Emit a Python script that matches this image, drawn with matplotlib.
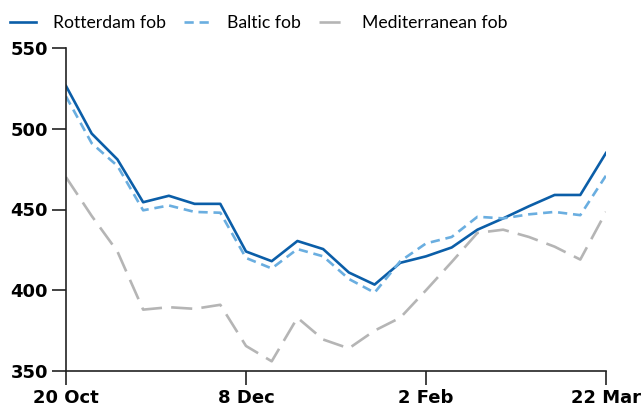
import matplotlib
matplotlib.use("Agg")
import matplotlib.pyplot as plt

dates = ["20 Oct", "8 Dec", "2 Feb", "22 Mar"]
date_idx = [0, 7, 14, 21]

rotterdam = [526.5, 497, 481, 454.5, 458.5, 453.5, 453.5, 424, 418, 430.5, 425.5,
             411, 403.5, 417, 421, 426.5, 437.5, 444.5, 452, 459, 459, 485]
baltic = [520, 491, 477, 449.5, 452.5, 448.5, 448, 420, 413.5, 425.5, 421,
          407, 398.5, 418, 429, 433, 445.5, 444.5, 447, 448.5, 446.5, 471]
mediterranean = [470, 446, 424, 388, 389.5, 388.5, 391, 365.5, 356, 383, 369.5,
                 364, 375, 383, 400, 417.5, 435.5, 437.5, 433, 427, 419, 448.5]

plt.rcParams["font.family"] = ["DejaVu Sans"]

fig = plt.figure(figsize=(6.41, 4.09), dpi=100)
ax = fig.add_axes([66 / 641, 1 - 371 / 409, 540 / 641, 323 / 409])

x = list(range(len(rotterdam)))
ax.plot(x, rotterdam, color="#0b5ea8", lw=1.9, label="Rotterdam fob")
ax.plot(x, baltic, color="#6aaee0", lw=1.9, dashes=(3.5, 2.2), label="Baltic fob")
ax.plot(x, mediterranean, color="#b5b5b5", lw=1.9, dashes=(8, 3.5), label="Mediterranean fob")

ax.set_xlim(0, 21)
ax.set_ylim(350, 550)
ax.set_yticks([350, 400, 450, 500, 550])
ax.set_xticks(date_idx)
ax.set_xticklabels(dates)

for s in ["top", "right"]:
    ax.spines[s].set_visible(False)
for s in ["left", "bottom"]:
    ax.spines[s].set_linewidth(1.2)
    ax.spines[s].set_color("#222222")
    ax.spines[s].set_clip_on(False)

ax.tick_params(axis="both", direction="out", length=10, width=1.2, color="#222222",
               labelsize=13, pad=3)
for lab in ax.get_xticklabels() + ax.get_yticklabels():
    lab.set_fontweight("bold")

fig.legend(loc="center left", bbox_to_anchor=(10 / 641, 1 - 23 / 409), ncol=3,
           frameon=False, prop={"family": "Lato", "size": 12.7},
           handlelength=1.45, handletextpad=1.0, columnspacing=1.0,
           borderpad=0, borderaxespad=0)

fig.savefig("out.png", dpi=100)
